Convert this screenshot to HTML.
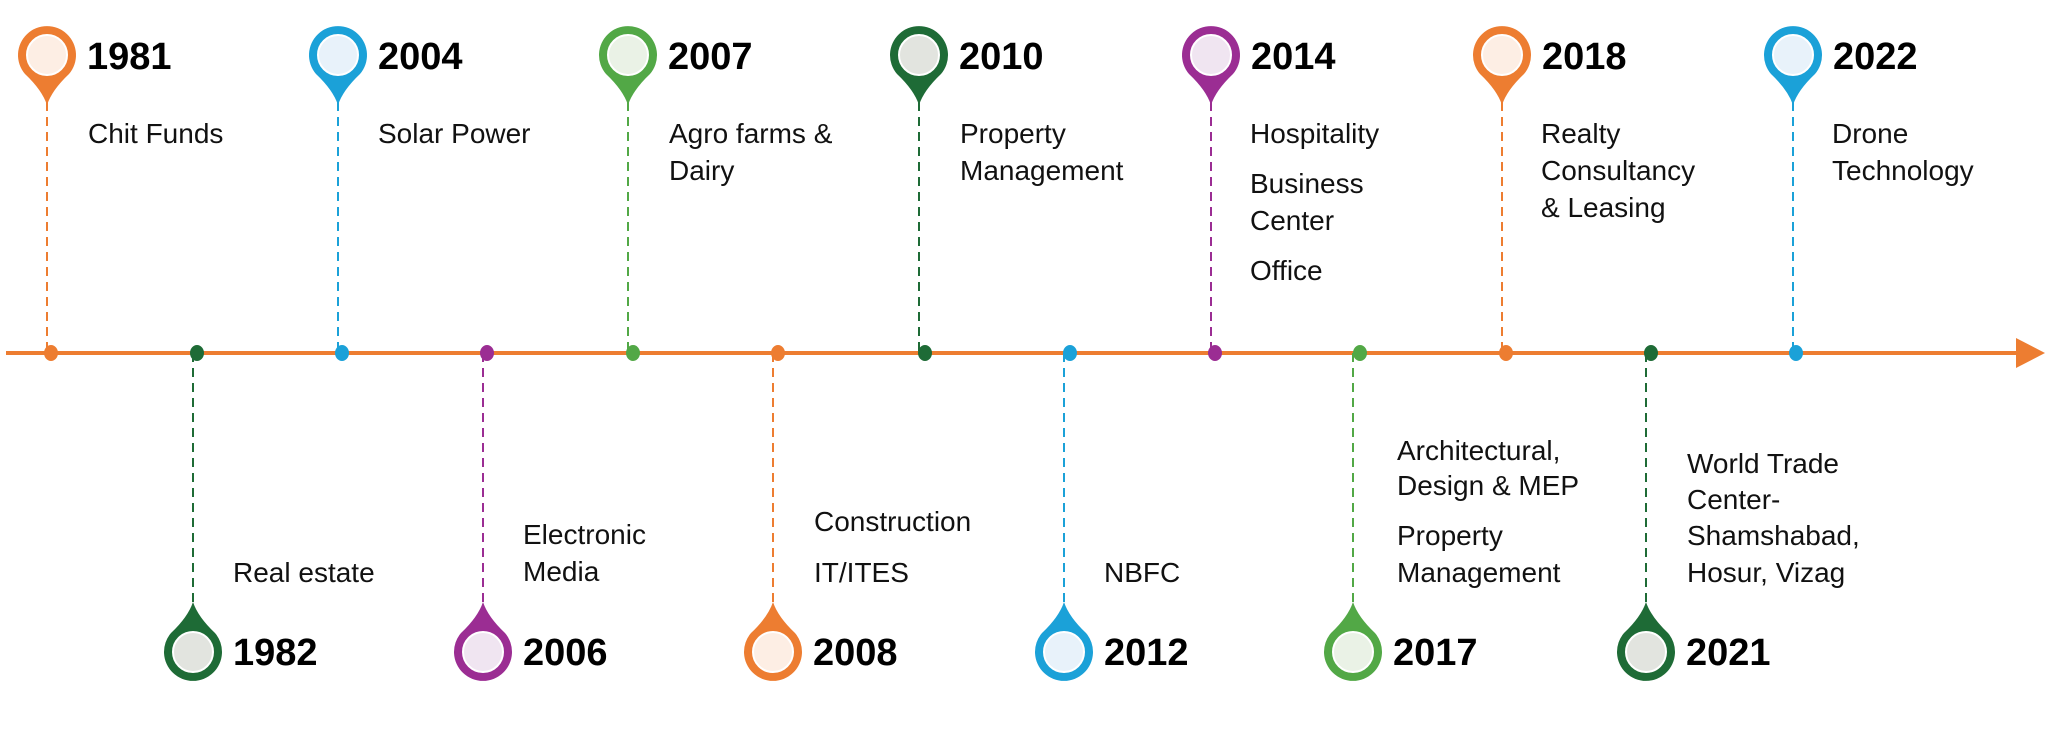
<!DOCTYPE html>
<html><head><meta charset="utf-8"><style>
html,body{margin:0;padding:0;background:#fff;}
svg{display:block;}
.l{font-family:"Liberation Sans",sans-serif;font-size:28px;fill:#111;}
.y{font-family:"Liberation Sans",sans-serif;font-size:38px;font-weight:bold;fill:#000;}
</style></head><body>
<svg width="2048" height="731" viewBox="0 0 2048 731" xmlns="http://www.w3.org/2000/svg">
<defs>
<g id="pt"><path d="M0,50 Q-5,35 -22,19 A29,29 0 1 1 22,19 Q5,35 0,50 Z"/></g>
<g id="pb"><path d="M0,-50 Q-5,-35 -22,-19 A29,29 0 1 0 22,-19 Q5,-35 0,-50 Z"/></g>
</defs>
<line x1="6" y1="353" x2="2020" y2="353" stroke="#ED7D31" stroke-width="4"/>
<polygon points="2016,338 2045,353 2016,368" fill="#ED7D31"/>

<g stroke-width="2" stroke-dasharray="9,6" fill="none">
<line x1="47" y1="102" x2="47" y2="353" stroke="#ED7D31"/>
<line x1="338" y1="102" x2="338" y2="353" stroke="#1BA1D8"/>
<line x1="628" y1="102" x2="628" y2="353" stroke="#52A846"/>
<line x1="919" y1="102" x2="919" y2="353" stroke="#1E6B36"/>
<line x1="1211" y1="102" x2="1211" y2="353" stroke="#9B2D93"/>
<line x1="1502" y1="102" x2="1502" y2="353" stroke="#ED7D31"/>
<line x1="1793" y1="102" x2="1793" y2="353" stroke="#1BA1D8"/>
<line x1="193" y1="353" x2="193" y2="605" stroke="#1E6B36"/>
<line x1="483" y1="353" x2="483" y2="605" stroke="#9B2D93"/>
<line x1="773" y1="353" x2="773" y2="605" stroke="#ED7D31"/>
<line x1="1064" y1="353" x2="1064" y2="605" stroke="#1BA1D8"/>
<line x1="1353" y1="353" x2="1353" y2="605" stroke="#52A846"/>
<line x1="1646" y1="353" x2="1646" y2="605" stroke="#1E6B36"/>
</g>

<g>
<ellipse cx="51" cy="353" rx="7" ry="8" fill="#ED7D31"/>
<ellipse cx="197" cy="353" rx="7" ry="8" fill="#1E6B36"/>
<ellipse cx="342" cy="353" rx="7" ry="8" fill="#1BA1D8"/>
<ellipse cx="487" cy="353" rx="7" ry="8" fill="#9B2D93"/>
<ellipse cx="633" cy="353" rx="7" ry="8" fill="#52A846"/>
<ellipse cx="778" cy="353" rx="7" ry="8" fill="#ED7D31"/>
<ellipse cx="925" cy="353" rx="7" ry="8" fill="#1E6B36"/>
<ellipse cx="1070" cy="353" rx="7" ry="8" fill="#1BA1D8"/>
<ellipse cx="1215" cy="353" rx="7" ry="8" fill="#9B2D93"/>
<ellipse cx="1360" cy="353" rx="7" ry="8" fill="#52A846"/>
<ellipse cx="1506" cy="353" rx="7" ry="8" fill="#ED7D31"/>
<ellipse cx="1651" cy="353" rx="7" ry="8" fill="#1E6B36"/>
<ellipse cx="1796" cy="353" rx="7" ry="8" fill="#1BA1D8"/>
</g>

<g transform="translate(47,55)"><use href="#pt" fill="#ED7D31"/><circle r="20" fill="#FDEEE4" stroke="#fff" stroke-width="2"/></g>
<g transform="translate(338,55)"><use href="#pt" fill="#1BA1D8"/><circle r="20" fill="#E8F2FA" stroke="#fff" stroke-width="2"/></g>
<g transform="translate(628,55)"><use href="#pt" fill="#52A846"/><circle r="20" fill="#EAF2E6" stroke="#fff" stroke-width="2"/></g>
<g transform="translate(919,55)"><use href="#pt" fill="#1E6B36"/><circle r="20" fill="#E2E4DF" stroke="#fff" stroke-width="2"/></g>
<g transform="translate(1211,55)"><use href="#pt" fill="#9B2D93"/><circle r="20" fill="#F0E5F1" stroke="#fff" stroke-width="2"/></g>
<g transform="translate(1502,55)"><use href="#pt" fill="#ED7D31"/><circle r="20" fill="#FDEEE4" stroke="#fff" stroke-width="2"/></g>
<g transform="translate(1793,55)"><use href="#pt" fill="#1BA1D8"/><circle r="20" fill="#E8F2FA" stroke="#fff" stroke-width="2"/></g>

<g transform="translate(193,652)"><use href="#pb" fill="#1E6B36"/><circle r="20" fill="#E2E4DF" stroke="#fff" stroke-width="2"/></g>
<g transform="translate(483,652)"><use href="#pb" fill="#9B2D93"/><circle r="20" fill="#F0E5F1" stroke="#fff" stroke-width="2"/></g>
<g transform="translate(773,652)"><use href="#pb" fill="#ED7D31"/><circle r="20" fill="#FDEEE4" stroke="#fff" stroke-width="2"/></g>
<g transform="translate(1064,652)"><use href="#pb" fill="#1BA1D8"/><circle r="20" fill="#E8F2FA" stroke="#fff" stroke-width="2"/></g>
<g transform="translate(1353,652)"><use href="#pb" fill="#52A846"/><circle r="20" fill="#EAF2E6" stroke="#fff" stroke-width="2"/></g>
<g transform="translate(1646,652)"><use href="#pb" fill="#1E6B36"/><circle r="20" fill="#E2E4DF" stroke="#fff" stroke-width="2"/></g>

<text class="y" x="87" y="69">1981</text>
<text class="y" x="378" y="69">2004</text>
<text class="y" x="668" y="69">2007</text>
<text class="y" x="959" y="69">2010</text>
<text class="y" x="1251" y="69">2014</text>
<text class="y" x="1542" y="69">2018</text>
<text class="y" x="1833" y="69">2022</text>
<text class="y" x="233" y="665">1982</text>
<text class="y" x="523" y="665">2006</text>
<text class="y" x="813" y="665">2008</text>
<text class="y" x="1104" y="665">2012</text>
<text class="y" x="1393" y="665">2017</text>
<text class="y" x="1686" y="665">2021</text>

<text class="l" x="88" y="143">Chit Funds</text>
<text class="l" x="378" y="143">Solar Power</text>
<text class="l" x="669" y="143">Agro farms &amp;</text>
<text class="l" x="669" y="180">Dairy</text>
<text class="l" x="960" y="143">Property</text>
<text class="l" x="960" y="180">Management</text>
<text class="l" x="1250" y="143">Hospitality</text>
<text class="l" x="1250" y="193">Business</text>
<text class="l" x="1250" y="230">Center</text>
<text class="l" x="1250" y="280">Office</text>
<text class="l" x="1541" y="143">Realty</text>
<text class="l" x="1541" y="180">Consultancy</text>
<text class="l" x="1541" y="217">&amp; Leasing</text>
<text class="l" x="1832" y="143">Drone</text>
<text class="l" x="1832" y="180">Technology</text>

<text class="l" x="233" y="582">Real estate</text>
<text class="l" x="523" y="544">Electronic</text>
<text class="l" x="523" y="581">Media</text>
<text class="l" x="814" y="531">Construction</text>
<text class="l" x="814" y="582">IT/ITES</text>
<text class="l" x="1104" y="582">NBFC</text>
<text class="l" x="1397" y="460">Architectural,</text>
<text class="l" x="1397" y="495">Design &amp; MEP</text>
<text class="l" x="1397" y="545">Property</text>
<text class="l" x="1397" y="582">Management</text>
<text class="l" x="1687" y="473">World Trade</text>
<text class="l" x="1687" y="509">Center-</text>
<text class="l" x="1687" y="545">Shamshabad,</text>
<text class="l" x="1687" y="582">Hosur, Vizag</text>
</svg>
</body></html>
